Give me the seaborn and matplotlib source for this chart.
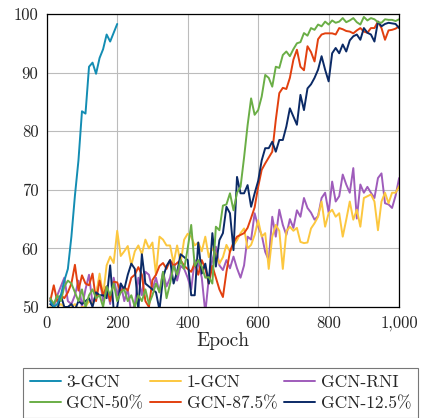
import numpy as np
import pandas as pd
import matplotlib
matplotlib.use("Agg")
import matplotlib.pyplot as plt
import seaborn as sns
from matplotlib.ticker import FuncFormatter

# epochs sampled every 10
epochs = list(range(10, 1001, 10))
epochs_3gcn = list(range(10, 201, 10))

gcn3 = [51, 50, 50.5, 52, 54.5, 56.5, 62, 69, 75, 83.4,
        83, 91, 91.7, 89.8, 92.5, 94, 96.5, 95.3, 96.8, 98.3]

gcn1 = [50, 49.5, 50, 50.5, 50, 49.5, 50, 50.5, 49.5, 50,
        50, 51, 50.5, 52, 55.7, 52, 57.1, 58.6, 57.5, 63,
        58.7, 59.5, 60.4, 57.1, 59.5, 60.5, 59, 61.5, 60, 61,
        55.5, 62, 61.5, 60.5, 60.5, 57.5, 60.5, 57.5, 61.5, 62.5,
        62, 60.5, 61, 59.5, 62, 58.5, 60, 59.1, 57.4, 58.5,
        60.6, 59.4, 60.5, 61.4, 62.6, 63.4, 60, 60.6, 62.3, 64.8,
        62, 62.6, 56.5, 62, 64, 63, 56.5, 62.9, 63.7, 63,
        63.5, 61.1, 60.9, 61, 63.4, 64.3, 65.4, 68, 63.7, 66,
        66.6, 65.4, 66, 62, 64.9, 68, 64.9, 66.6, 63.7, 68.6,
        68.9, 69.2, 68, 63.1, 68, 69.5, 67.7, 69.5, 69.5, 70.6]

gcn_rni = [51.5, 50, 52, 53.5, 55, 51, 50.5, 52, 54.5, 50,
           53, 55.5, 50.5, 52, 55, 51, 53.5, 50.5, 55, 52,
           54, 51, 53, 49, 50.5, 55, 52, 56, 55.5, 53,
           55, 52.5, 56, 53.5, 55, 58, 54.5, 57, 56.5, 55,
           53, 58, 57.5, 55, 49, 55, 58, 60.3, 57.1, 56.3,
           58, 56.6, 58.6, 56.6, 55, 57.1, 62, 61.5, 66, 63.7,
           62.3, 59.4, 58, 65.4, 62, 66.6, 64, 62.3, 65, 63.5,
           66.5, 65.4, 68.6, 66.9, 66.1, 64.9, 65.5, 68.6, 69.5, 66.1,
           71.4, 68, 68.9, 72.6, 70.9, 69.5, 73.7, 65.1, 70.9, 69.5,
           70.5, 69.5, 68.6, 72, 72.8, 67.7, 67.5, 66.9, 69, 72]

gcn_50 = [51.5, 50.5, 52, 51, 53.5, 54.5, 54, 52.5, 51, 53,
          50, 52, 53, 51.5, 52, 50, 53.5, 52, 54, 51,
          52.5, 53, 51, 52, 50, 52, 51, 53, 50.5, 52,
          54, 52.5, 56, 51.5, 54, 57, 55.5, 58, 56.5, 60,
          64, 57, 58, 56.9, 55, 55.1, 54, 63.7, 63.1, 67.3,
          67.5, 69.4, 66.5, 69.5, 70.5, 75.5, 81, 85.6, 82.8, 83.6,
          85.9, 89.6, 89.1, 87.6, 91.0, 90.8, 93, 93.6, 92.8, 94,
          95, 95.2, 96.75, 96.3, 97.6, 97.3, 98.2, 97.9, 98.7, 98.2,
          98.9, 98.5, 98.7, 99.3, 98.6, 98.9, 99.3, 98.6, 98.2, 99.5,
          98.9, 99.3, 99.1, 98.6, 98.5, 99.1, 99.0, 99.0, 98.8, 99.1]

gcn_875 = [51, 53.7, 50.9, 52, 51.5, 52.5, 54, 57.2, 52.8, 55.4,
           54, 53.7, 55.7, 51, 54.5, 52, 53.5, 51, 54.3, 54.2,
           52.5, 53.4, 52.8, 55, 55.5, 56.8, 55.5, 51, 50, 54.6,
           55.5, 57, 57.5, 56.5, 58, 57, 57.5, 58, 57, 56.5,
           56, 57.5, 55.5, 58, 56.5, 54, 57, 55, 53, 51.7,
           56, 59.5, 61, 62, 62.3, 62.6, 63.5, 65.2, 67, 70.5,
           73.4, 74.5, 75.5, 76.5, 81.9, 86.5, 87.4, 87.2, 89.1, 92.2,
           93.9, 91.0, 90.4, 94.5, 93.5, 91.9, 95.7, 96.5, 96.7, 96.7,
           96.7, 96.5, 97.6, 97.4, 97.1, 97, 96.7, 97.2, 97.6, 97,
           96.8, 97.6, 97.6, 98.7, 97.6, 95.6, 97.2, 97.3, 97.5, 97.9]

gcn_125 = [50.5, 50, 49.5, 52, 50, 50, 50.5, 49.5, 51, 50.5,
           51, 51.5, 50, 52.5, 52, 52, 51.5, 57.1, 49.5, 50,
           54, 53, 55.5, 57.4, 56.5, 49.5, 59, 54, 53.5, 53,
           52.5, 49.5, 55, 57, 58, 54, 56, 59, 58.5, 58,
           52, 52, 61, 55.7, 57.4, 54, 62.6, 56.9, 61.4, 62.6,
           67.1, 66, 59.7, 72.2, 69.4, 69.4, 70.8, 67.1, 69.4, 71.5,
           75, 77.1, 77.1, 78.2, 76.5, 78.5, 78.5, 80.8, 83.9, 82.5,
           81.1, 86.2, 83.6, 87.3, 88, 89.1, 90.5, 92.8, 90.5, 88.5,
           93.3, 94.2, 93.3, 94.8, 93.6, 95.5, 96.2, 96.5, 95.6, 97.6,
           96.8, 96.5, 95.3, 98.7, 97.9, 98.3, 98.5, 98.4, 98.3, 97.6]

names = ["3-GCN", "1-GCN", "GCN-RNI", "GCN-50%", "GCN-87.5%", "GCN-12.5%"]
colors = ["#138db3", "#fcc73f", "#9f5cbb", "#6aae46", "#e2400f", "#0b2a66"]

frames = [pd.DataFrame({"Epoch": epochs_3gcn, "acc": gcn3, "model": names[0]})]
for n, v in zip(names[1:], [gcn1, gcn_rni, gcn_50, gcn_875, gcn_125]):
    frames.append(pd.DataFrame({"Epoch": epochs, "acc": v, "model": n}))
df = pd.concat(frames, ignore_index=True)

sns.set_style("white")
plt.rcParams["font.family"] = ["cmr10", "DejaVu Serif"]
plt.rcParams["axes.formatter.use_mathtext"] = True
plt.rcParams["mathtext.fontset"] = "cm"

fig = plt.figure(figsize=(4.21, 4.18), dpi=100)
ax = fig.add_axes([0.111, 0.2656, 0.837, 0.7009])

# navy / green end up on top like the original
draw_order = ["GCN-RNI", "1-GCN", "GCN-87.5%", "GCN-12.5%", "GCN-50%", "3-GCN"]
pal = dict(zip(names, colors))
for n in draw_order:
    sub = df[df.model == n]
    sns.lineplot(data=sub, x="Epoch", y="acc", color=pal[n], lw=1.4,
                 ax=ax, legend=False)

ax.set_xlim(0, 1000)
ax.set_ylim(50, 100)
ax.set_xticks([0, 200, 400, 600, 800, 1000])
ax.set_yticks([50, 60, 70, 80, 90, 100])
ax.xaxis.set_major_formatter(FuncFormatter(lambda v, p: f"{int(v):,}"))
ax.yaxis.set_major_formatter(FuncFormatter(lambda v, p: f"{int(v)}"))
ax.grid(True, color="#bcbcbc", lw=0.8)
ax.set_axisbelow(True)
ax.tick_params(labelsize=12, direction="out", length=3, color="#888888", pad=3)
for s in ax.spines.values():
    s.set_color("black")
    s.set_linewidth(0.9)
ax.set_xlabel("Epoch", fontsize=14, labelpad=1)
ax.set_ylabel("")

# legend is filled column by column, so reorder to read row-wise
order = [0, 3, 1, 4, 2, 5]
handles = [plt.Line2D([], [], color=colors[i], lw=1.4) for i in order]
labels = [names[i] for i in order]
leg = fig.legend(handles, labels, loc="upper left", bbox_to_anchor=(0.054, 0.12),
                 ncol=3, fontsize=12.5, frameon=True, fancybox=False,
                 edgecolor="#555555", handlelength=1.8, handletextpad=0.3,
                 columnspacing=0.4, borderpad=0.4, labelspacing=0.35,
                 borderaxespad=0)
leg.get_frame().set_linewidth(0.8)

fig.savefig("out.png", dpi=100)
